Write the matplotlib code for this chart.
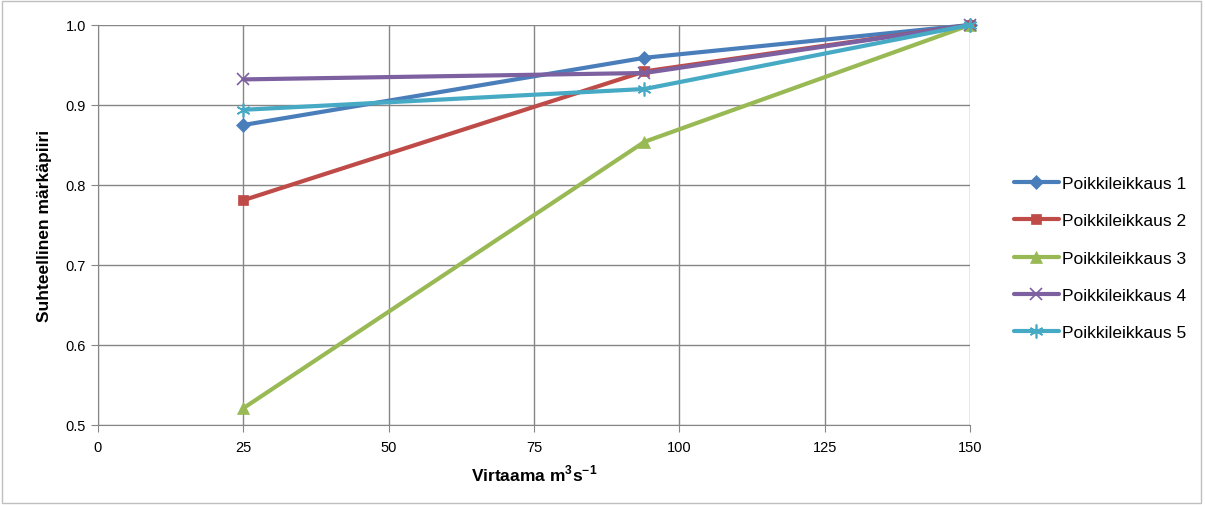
import matplotlib
matplotlib.use("Agg")
import matplotlib.pyplot as plt
from matplotlib.patches import Rectangle

plt.rcParams['font.family'] = ['Liberation Sans', 'DejaVu Sans']
plt.rcParams['mathtext.fontset'] = 'custom'
plt.rcParams['mathtext.rm'] = 'Liberation Sans'
plt.rcParams['mathtext.bf'] = 'Liberation Sans:bold'

x = [25, 94, 150]
series_names = ["Poikkileikkaus 1", "Poikkileikkaus 2", "Poikkileikkaus 3",
                "Poikkileikkaus 4", "Poikkileikkaus 5"]
s1 = [0.875, 0.959, 1.0]
s2 = [0.781, 0.942, 1.0]
s3 = [0.521, 0.854, 1.0]
s4 = [0.932, 0.940, 1.0]
s5 = [0.894, 0.920, 1.0]
xticks = [0, 25, 50, 75, 100, 125, 150]
yticks = [0.5, 0.6, 0.7, 0.8, 0.9, 1.0]

colors = ["#4A7EBB", "#BE4B48", "#98B954", "#7D60A0", "#46AAC5"]
markers = ["D", "s", "^", "x", (6, 2, 0)]
msizes = [7, 7, 9, 9, 10]

fig = plt.figure(figsize=(12.05, 5.06), dpi=100)
ax = fig.add_axes([98/1205, 1-426/506, (970-98)/1205, (426-26)/506])

for ys, c, m, ms, name in zip([s1, s2, s3, s4, s5], colors, markers, msizes, series_names):
    ax.plot(x, ys, color=c, lw=3, marker=m, markersize=ms,
            markeredgewidth=1.2 if (m == "x" or isinstance(m, tuple)) else 0.5,
            markeredgecolor=c, markerfacecolor=c, label=name, solid_capstyle='round',
            clip_on=False, zorder=3)

ax.set_xlim(0, 150)
ax.set_ylim(0.5, 1.0)
ax.set_xticks(xticks)
ax.set_yticks(yticks)
ax.set_yticklabels([f"{v:.1f}" for v in yticks])
ax.grid(True, color="#868686", lw=1)
ax.set_axisbelow(True)
for side in ["top", "right"]:
    ax.spines[side].set_visible(False)
for side in ["left", "bottom"]:
    ax.spines[side].set_color("#868686")
ax.tick_params(axis='both', color="#868686", length=5, labelsize=10.5, direction='out')
ax.tick_params(axis='x', pad=6)
ax.set_xlabel("Virtaama m$^{\\mathbf{3}}$s$^{\\mathbf{-1}}$", fontsize=12.5, fontweight='bold', labelpad=6)
ax.set_ylabel("Suhteellinen märkäpiiri", fontsize=12.5, fontweight='bold', labelpad=10)

leg = ax.legend(loc='center left', bbox_to_anchor=(998/1205, 1-259/506), bbox_transform=fig.transFigure,
                frameon=False, fontsize=12.5, handlelength=2.6, labelspacing=1.27, handletextpad=0.2)

fig.patches.append(Rectangle((0.002, 0.004), 0.995, 0.992, transform=fig.transFigure,
                             fill=False, edgecolor="#BFBFBF", lw=1))
fig.savefig("out.png", dpi=100)
